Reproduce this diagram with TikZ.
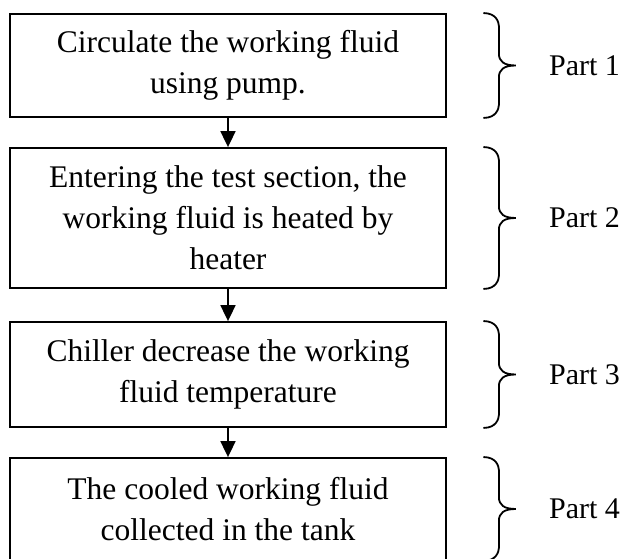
\documentclass[tikz,border=0pt]{standalone}
\usepackage{fontspec}
\setmainfont{Liberation Serif}
\usetikzlibrary{arrows.meta,positioning,calc}

% curly brace on the right of a stage box, with its part label
\newcommand{\partbrace}[2]{%
  \draw[brace] ([xshift=37pt]#1.north east)
    .. controls +(12,0) and +(0,4) .. ([xshift=52pt,yshift=-13pt]#1.north east)
    -- ([xshift=52pt,yshift=12pt]#1.east)
    .. controls +(0,-8) and +(-12,0) .. ([xshift=69pt]#1.east) coordinate (#1-tip)
    .. controls +(-12,0) and +(0,8) .. ([xshift=52pt,yshift=-12pt]#1.east)
    -- ([xshift=52pt,yshift=13pt]#1.south east)
    .. controls +(0,-4) and +(12,0) .. ([xshift=37pt]#1.south east);
  \node[tag, right=33pt of #1-tip] (#1-part) {#2};
}

\begin{document}
\begin{tikzpicture}[
  x=1pt,
  y=1pt,
  stage/.style={
    rectangle,
    draw=black,
    line width=1.8pt,
    align=center,
    minimum width=436pt,
    font=\fontsize{31.5}{41}\selectfont
  },
  tag/.style={
    inner sep=0pt,
    font=\fontsize{30}{36}\selectfont
  },
  brace/.style={line width=1.8pt, line cap=round},
  flow/.style={-{Triangle[length=16pt,width=15pt]}, line width=1.8pt}
]
\path[use as bounding box, clip] (0,0) rectangle (622,559);

% process stages
\node[stage, minimum height=103pt] (pump) at (228,493.5) {Circulate the working fluid\\using pump.};
\node[stage, minimum height=140pt] (heat) at (228,341) {Entering the test section, the\\working fluid is heated by\\heater};
\node[stage, minimum height=105pt] (chill) at (228,184.5) {Chiller decrease the working\\fluid temperature};
\node[stage, minimum height=102pt] (tank) at (228,50) {The cooled working fluid\\collected in the tank};

\draw[flow] (pump) -- (heat);
\draw[flow] (heat) -- (chill);
\draw[flow] (chill) -- (tank);

% parts
\partbrace{pump}{Part 1}
\partbrace{heat}{Part 2}
\partbrace{chill}{Part 3}
\partbrace{tank}{Part 4}
\end{tikzpicture}
\end{document}
